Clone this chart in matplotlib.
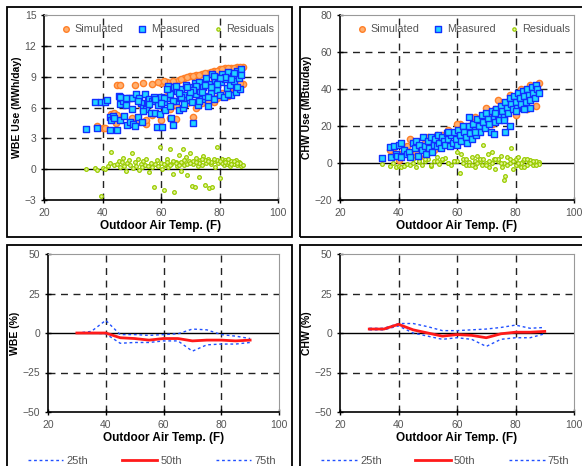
import matplotlib.pyplot as plt
from matplotlib.patches import Rectangle
from matplotlib.lines import Line2D
import numpy as np

# --- WBE (MWh/day) scatter ---
wbe_meas_t = [34.5, 37.5, 38, 39.5, 41, 41.5, 42.5, 42.5, 43, 43.5, 45, 45.5, 46, 46, 47, 47.5, 48, 48.5,
              49, 49.5, 50, 50.5, 51, 51.5, 52, 52.5, 53, 53.5, 54, 54.5, 55, 55.5, 56, 56.5, 57, 57.5,
              58, 58.5, 59, 59.5, 60, 60.5, 61, 61.5, 62, 62.5, 63, 63.5, 64, 64.5, 65, 65.5, 66, 66.5,
              67, 67.5, 68, 68.5, 69, 69.5, 70, 70.5, 71, 71.5, 72, 72.5, 73, 73.5, 74, 74.5, 75, 75.5,
              76, 76.5, 77, 77.5, 78, 78.5, 79, 79.5, 80, 80.5, 81, 81.5, 82, 82.5, 83, 83.5, 84, 84.5,
              85, 85.5, 86, 86.5, 87, 87.5, 87.5, 86, 85, 84, 83, 82, 80, 79, 78, 77, 76, 75, 74, 73,
              72, 71, 70, 69, 68, 67, 66, 65, 64, 63, 62, 61, 60, 58, 56, 54, 52, 50, 48, 46, 44]
wbe_meas_v = [3.9, 6.5, 4.0, 6.5, 6.5, 6.7, 5.1, 3.8, 4.8, 5.2, 3.8, 7.1, 6.3, 4.8, 6.6, 5.2, 6.2, 4.3,
              6.9, 4.6, 6.9, 4.4, 4.2, 7.3, 5.1, 6.9, 6.4, 4.6, 6.0, 7.3, 5.9, 6.6, 6.8, 5.5, 6.6, 7.0,
              5.5, 4.1, 6.2, 5.4, 7.0, 4.1, 6.5, 5.8, 6.9, 8.1, 7.3, 5.0, 4.3, 8.0, 6.6, 7.6, 5.8, 6.9,
              7.8, 6.0, 7.2, 8.2, 6.7, 7.0, 8.0, 6.5, 4.5, 8.4, 7.3, 6.2, 8.5, 7.6, 6.8, 8.0, 7.1, 8.9,
              6.1, 8.3, 7.4, 9.3, 6.8, 8.7, 7.7, 9.0, 7.2, 8.5, 9.3, 7.0, 8.8, 7.9, 9.5, 8.2, 7.2, 9.1,
              8.6, 7.5, 9.6, 8.9, 7.8, 9.7, 9.2, 8.0, 9.4, 8.8, 7.3, 9.0, 8.9, 8.3, 9.1, 8.0, 7.0, 8.2,
              7.5, 6.6, 8.1, 7.7, 7.5, 8.0, 6.3, 7.0, 7.4, 8.1, 6.6, 6.1, 7.8, 6.9, 6.4, 6.8, 6.3, 5.7,
              6.6, 5.9, 6.9, 7.0, 5.0]
wbe_sim_t = [60, 62, 64, 66, 68, 70, 72, 74, 76, 78, 80, 82, 84, 86, 88, 45, 46, 51, 54, 57, 59, 61,
             38, 40, 41, 43, 44, 44.5, 45, 50, 52, 55, 55, 57, 60, 63, 65, 71, 72, 74, 78, 80, 84, 86,
             88, 46, 48, 53, 58, 62, 66, 70, 74, 78, 82, 85, 67, 69, 71, 73, 75, 77, 79, 81, 83, 85, 87,
             65, 69, 73, 77, 81, 85, 87, 63, 76, 79, 83]
wbe_sim_v = [8.4, 8.5, 8.6, 8.7, 8.9, 9.1, 9.2, 9.3, 9.4, 9.6, 9.7, 9.8, 9.8, 9.9, 9.9, 8.2, 8.2, 8.2,
             8.4, 8.3, 8.5, 8.6, 4.2, 4.0, 4.0, 5.4, 5.5, 4.5, 5.3, 5.0, 4.8, 4.4, 4.8, 5.3, 4.8, 5.0,
             4.9, 5.1, 6.0, 6.4, 6.5, 7.2, 7.5, 8.0, 8.3, 6.8, 6.5, 6.2, 6.6, 7.1, 7.7, 7.9, 8.2, 8.6,
             8.9, 9.3, 8.8, 9.0, 9.1, 9.2, 9.4, 9.5, 9.6, 9.7, 9.8, 9.8, 9.9, 6.2, 6.4, 6.9, 7.0, 7.4,
             7.9, 8.4, 5.9, 6.6, 6.9, 7.1]
wbe_res_t = [34.5, 37.5, 38, 39.5, 40, 41, 42, 42.5, 43, 44, 45, 45.5, 46, 46.5, 47, 47.5, 48, 48.5,
             49, 49.5, 50, 50.5, 51, 51.5, 52, 52.5, 53, 53.5, 54, 54.5, 55, 55.5, 56, 56.5, 57, 57.5,
             58, 58.5, 59, 59.5, 60, 60.5, 61, 61.5, 62, 62.5, 63, 63.5, 64, 64.5, 65, 65.5, 66, 66.5,
             67, 67.5, 68, 68.5, 69, 69.5, 70, 70.5, 71, 71.5, 72, 72.5, 73, 73.5, 74, 74.5, 75, 75.5,
             76, 76.5, 77, 77.5, 78, 78.5, 79, 79.5, 80, 80.5, 81, 81.5, 82, 82.5, 83, 83.5, 84, 84.5,
             85, 85.5, 86, 86.5, 87, 87.5, 61, 63, 65, 67, 69, 71, 73, 75, 77, 79, 81, 83, 85, 87, 62,
             64, 66, 68, 70, 72, 74, 76, 78, 80, 82, 84, 86, 88]
wbe_res_v = [0.0, 0.1, -0.1, -2.6, 0.1, 0.0, 0.3, 0.6, 1.7, 0.4, 0.5, 0.8, 0.2, 0.7, 1.1, 0.3, -0.2, 0.6,
             0.9, 0.4, 1.6, 0.1, 0.7, 0.3, 1.0, -0.1, 0.5, 0.2, 0.8, 0.4, 1.0, 0.3, -0.3, 0.6, 0.2, -1.7,
             0.5, 0.9, 0.3, 2.2, 0.6, 0.0, -2.0, 0.4, 1.0, 0.2, 2.0, 0.5, -0.5, -2.2, 0.7, 0.3, 1.4, 0.6,
             -0.2, 2.0, 0.4, 1.2, -0.6, 0.8, 1.6, -1.6, 0.5, -1.7, 1.1, 0.3, -0.8, 0.9, 0.4, 1.3, -1.5, 0.6,
             1.0, -1.8, 0.5, -1.7, 0.8, 0.2, 2.2, 0.6, -0.9, 0.7, 1.0, 0.4, 0.9, 0.5, 0.7, 0.3, 0.8, 0.6,
             0.5, 0.9, 0.4, 0.7, 0.5, 0.3, 0.5, 0.4, 0.6, 0.7, 0.5, 0.8, 0.6, 0.9, 0.7, 0.9, 0.6, 1.0, 0.8,
             0.6, 0.7, 0.8, 0.4, 0.9, 0.6, 0.7, 1.0, 0.8, 1.0, 0.8, 0.7, 0.5, 0.6, 0.4]

# --- CHW (MBtu/day) scatter ---
chw_meas_t = [34.5, 37, 37.5, 38.5, 39, 39.5, 40, 41, 41, 42, 43, 43.5, 44, 45, 45.5, 46, 46.5, 47, 48,
              48.5, 49, 49.5, 50, 50.5, 51, 51.5, 52, 52.5, 53, 53.5, 54, 54.5, 55, 55.5, 56, 56.5, 57,
              57.5, 58, 58.5, 59, 59.5, 60, 60.5, 61, 61.5, 62, 62.5, 63, 63.5, 64, 64.5, 65, 65.5, 66,
              66.5, 67, 67.5, 68, 68.5, 69, 69.5, 70, 70.5, 71, 71.5, 72, 72.5, 73, 73.5, 74, 74.5, 75,
              75.5, 76, 76.5, 77, 77.5, 78, 78, 78.5, 79, 79.5, 80, 80.5, 81, 81.5, 82, 82.5, 83, 83.5,
              84, 84.5, 85, 85.5, 86, 86.5, 87, 87.5, 88, 85, 83, 80, 76, 72.5, 73, 76.5, 57, 66, 64]
chw_meas_v = [2.5, 8.5, 3.5, 9, 5, 4, 10, 11, 3, 7, 5, 6, 3, 11, 8, 12, 4, 10, 7, 14, 9, 5, 12, 8, 14, 6,
              10, 13, 9, 15, 11, 8, 14, 12, 10, 16, 13, 9, 15, 11, 17, 13, 10, 18, 15, 12, 20, 17, 14, 11,
              20, 16, 13, 21, 18, 15, 24, 20, 17, 26, 22, 19, 27, 24, 21, 17, 28, 25, 22, 29, 26, 23, 31,
              28, 25, 33, 30, 27, 20, 35, 32, 29, 36, 33, 30, 38, 35, 32, 39, 36, 33, 40, 37, 34, 41, 38,
              35, 42, 40, 38, 30, 29, 28, 23, 15.5, 27, 17, 17, 17, 25]
chw_sim_t = [61, 66, 70, 74, 78, 82, 85, 88, 38, 40, 41, 45, 47, 55, 62, 68, 72, 75, 80, 84, 87, 44, 53,
             57, 64, 64, 67, 69, 71, 73, 75, 77, 79, 81, 83, 86, 48, 50, 52, 58, 60, 37, 43, 46, 49]
chw_sim_v = [21, 25, 30, 34, 37, 40, 42, 43, 6, 1.5, 5, 5, 3, 15, 13, 18, 21, 24, 26, 29, 31, 13, 15,
             18, 16, 20, 19, 22, 26, 29, 31, 33, 35, 37, 39, 41, 9, 14, 7, 10, 21, 7, 9, 6, 11]
chw_res_t = [34.5, 37, 38, 39, 40, 41, 42, 43, 44, 45, 46, 47, 48, 49, 50, 51, 52, 53, 54, 55, 56, 57,
             58, 59, 60, 61, 61.5, 62, 63, 64, 65, 66, 67, 68, 68.5, 69, 70, 70.5, 71, 72, 72.5, 73, 74,
             75, 75.5, 76, 76.5, 77, 78, 78.5, 79, 80, 80.5, 81, 82, 82.5, 83, 84, 84.5, 85, 86, 86.5, 87,
             88, 60, 62, 64, 66, 68, 70, 72, 74, 76, 78, 80, 82, 84, 86, 88, 63, 65, 67, 69, 71, 73, 75,
             77, 79, 81, 83, 85, 87, 45, 47, 49, 51, 53, 55, 57, 59]
chw_res_v = [-0.5, -1.5, 0, -2, -1.5, -2, -1.5, -0.5, -1, 2, -2, 0.5, -1, 1, 2, -1.5, 1, 3, -0.5, 1.5,
             2.5, 0, -1, 1, 6, -5.5, 5, 2, -1, 0.5, 3, -2, 4, 1, -1, 10, 0, 5, -2, 6, 2, -3, 1, 4, -2, -9,
             -7, 3, 0, 8, -3, 2, -1, 3, -2, 1, 2, -1, 0.5, 1.5, -1, 0, 1, 0.5, 1, 0, -1, 1, 2, -1, 0, 2, 0,
             2, -1, 0, 2, 1, -0.5, 2, -1, 0, 2, 1, 2, 0, -1, 1, 0, -2, 0, -1, 0, 1, 2, -1, 1, 2, 0, 1]

# --- percentile bias (%) by temperature bin ---
bin_t = [30, 35, 40, 45, 50, 55, 60, 65, 70, 75, 80, 85, 90]
wbe_p25 = [0, 0, -0.5, -6.5, -6, -6, -5, -5, -11.5, -7.5, -7, -7, -6]
wbe_p50 = [0, 0, 0, -3, -3.5, -4.5, -3.5, -3.5, -5, -4.5, -4.5, -5, -4.5]
wbe_p75 = [0, 1, 8, -1, -1, -1.5, -1, -0.5, 2.5, 2, -1, -2, -3.5]
chw_p25 = [2, 2, 4.5, 0, -2, -4, -3, -4, -8.5, -4, -3, -3, -0.5]
chw_p50 = [2.5, 2.5, 5.5, 2, 0, -2, -1, -1.5, -3, -0.5, 0.5, 0.5, 1]
chw_p75 = [3, 3, 6, 6, 4, 1.5, 1.5, 2, 2.5, 3.5, 5, 3, 3.5]

W, H = 582, 466
fig = plt.figure(figsize=(W / 100, H / 100), dpi=100)
plt.rcParams['font.family'] = ['Liberation Sans', 'DejaVu Sans']

def box(l, r, t, b):
    # pixel coords -> figure fraction
    return [l / W, 1 - b / H, (r - l) / W, (b - t) / H]

# panel frames
for (l, r, t, b) in [(7, 292, 7, 237), (300, 590, 7, 237), (7, 292, 245, 475), (300, 590, 245, 475)]:
    fig.patches.append(Rectangle((l / W, 1 - b / H), (r - l) / W, (b - t) / H, transform=fig.transFigure,
                                 fill=False, ec='black', lw=1.3))

def style(ax, ylim, yticks, ylabel):
    ax.set_xlim(20, 100)
    ax.set_ylim(*ylim)
    ax.set_xticks([20, 40, 60, 80, 100])
    ax.set_yticks(yticks)
    ax.tick_params(direction='inout', length=5, width=1, labelsize=7.5, labelcolor='#555555', pad=3)
    ax.tick_params(axis='x', pad=3)
    for s in ['top', 'right']:
        ax.spines[s].set_color('#999999')
    for s in ['left', 'bottom']:
        ax.spines[s].set_linewidth(1.2)
    for x in [40, 60, 80]:
        ax.axvline(x, color='#222222', lw=1, ls=(0, (5, 4)), zorder=0)
    for y in yticks[1:-1]:
        if y != 0:
            ax.axhline(y, color='#222222', lw=1, ls=(0, (5, 4)), zorder=0)
    ax.axhline(0, color='black', lw=1, zorder=0.5)
    ax.set_xlabel('Outdoor Air Temp. (F)', fontsize=8.5, fontweight='bold', labelpad=2)
    ax.set_ylabel(ylabel, fontsize=7.5, fontweight='bold', labelpad=2)

def scatter_panel(ax, st, sv, mt, mv, rt, rv):
    ax.scatter(st, sv, s=20, marker='o', facecolor='#FFB070', edgecolor='#FF7F27', lw=1, label='Simulated', zorder=2)
    ax.scatter(mt, mv, s=20, marker='s', facecolor='#22D4FF', edgecolor='#1030FF', lw=1, label='Measured', zorder=3)
    ax.scatter(rt, rv, s=7, marker='o', facecolor='#E6F5A0', edgecolor='#99CC00', lw=0.9, label='Residuals', zorder=2)
    ax.legend(ncol=3, loc='upper center', frameon=False, fontsize=7.8, labelcolor='#555555',
              handlelength=0.8, handletextpad=0.4, columnspacing=1.3, borderaxespad=0.4, markerscale=0.9,
              bbox_to_anchor=(0.53, 1.0))

ax1 = fig.add_axes(box(44, 278, 15, 200))
style(ax1, (-3, 15), [-3, 0, 3, 6, 9, 12, 15], 'WBE Use (MWh/day)')
scatter_panel(ax1, wbe_sim_t, wbe_sim_v, wbe_meas_t, wbe_meas_v, wbe_res_t, wbe_res_v)

ax2 = fig.add_axes(box(340, 574, 15, 200))
style(ax2, (-20, 80), [-20, 0, 20, 40, 60, 80], 'CHW Use (MBtu/day)')
scatter_panel(ax2, chw_sim_t, chw_sim_v, chw_meas_t, chw_meas_v, chw_res_t, chw_res_v)

def pct_panel(ax, p25, p50, p75, ylabel):
    style(ax, (-50, 50), [-50, -25, 0, 25, 50], ylabel)
    ax.plot(bin_t, p25, color='#2050FF', lw=1, ls=(0, (2, 2)), zorder=3)
    ax.plot(bin_t, p75, color='#2050FF', lw=1, ls=(0, (2, 2)), zorder=3)
    ax.plot(bin_t, p50, color='#FF1A1A', lw=2, zorder=4)
    handles = [Line2D([], [], color='#2050FF', lw=1, ls=(0, (2, 2))),
               Line2D([], [], color='#FF1A1A', lw=2),
               Line2D([], [], color='#2050FF', lw=1, ls=(0, (2, 2)))]
    ax.legend(handles, ['25th', '50th', '75th'], ncol=3, loc='center', frameon=False, fontsize=8,
              labelcolor='#555555', handlelength=3.2, handletextpad=0.3, columnspacing=3.0,
              borderaxespad=0, borderpad=0, bbox_to_anchor=(0.45, -0.31))

ax3 = fig.add_axes(box(48, 279, 254, 412))
pct_panel(ax3, wbe_p25, wbe_p50, wbe_p75, 'WBE (%)')

ax4 = fig.add_axes(box(340, 574, 254, 412))
pct_panel(ax4, chw_p25, chw_p50, chw_p75, 'CHW (%)')

fig.savefig('out.png', dpi=100)
